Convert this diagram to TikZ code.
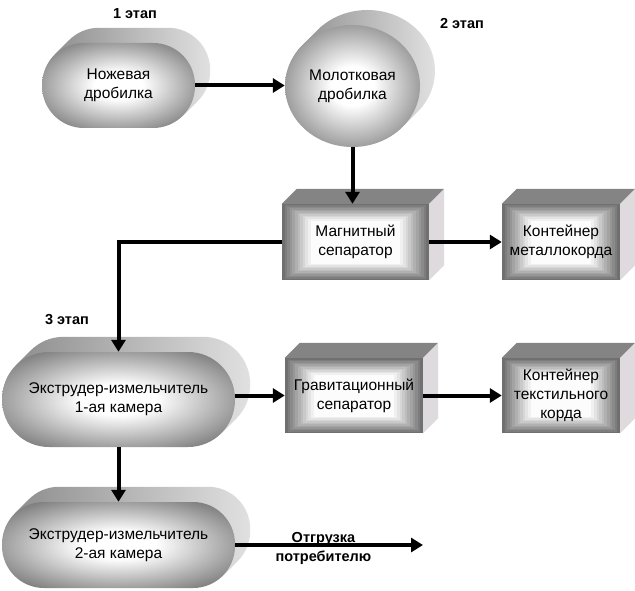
\documentclass[tikz,border=0pt]{standalone}
\usepackage{fontspec}
\setmainfont{Liberation Sans}
\usetikzlibrary{shapes.geometric,arrows.meta,backgrounds}

\definecolor{sidegray}{RGB}{222,218,222}
\definecolor{topgray}{RGB}{132,132,132}
\pgfdeclareradialshading{crushfront}{\pgfpoint{0bp}{0bp}}{color(0bp)=(white); color(8bp)=(white); color(33bp)=(black!56); color(50bp)=(black!60)}

\begin{document}
\begin{tikzpicture}[x=1pt,y=-1pt,
  txt/.style={font=\fontsize{15.5}{19}\selectfont, align=center},
  stage/.style={font=\bfseries\fontsize{14.5}{19}\selectfont, align=center},
  roundface/.style={rectangle, inner sep=0pt, shading=crushfront, txt},
  ovalface/.style={ellipse, inner sep=0pt, shading=crushfront, txt},
  boxface/.style={rectangle, inner sep=0pt, fill=black!56, txt,
    path picture={\foreach \k [evaluate=\k as \tone using {int(56-5*\k)}] in {1,...,11}
      \fill[black!\tone] ([shift={(\k*2.6pt,\k*1.5pt)}]path picture bounding box.south west)
        rectangle ([shift={(-\k*2.6pt,-\k*1.5pt)}]path picture bounding box.north east);}},
  backface/.style={left color=black!46, right color=black!12},
  flow/.style={line width=4pt, -{Triangle[length=12pt,width=14pt]}},
]
\useasboundingbox (0,0) rectangle (635,591);

% crushers and extruders
\node[roundface, rounded corners=42pt, minimum width=153pt, minimum height=85pt] (knife) at (118.5,85.5) {Ножевая\\дробилка};
\node[ovalface, minimum width=135pt, minimum height=122pt] (hammer) at (352.5,86) {Молотковая\\дробилка};
\node[roundface, rounded corners=47pt, minimum width=233pt, minimum height=95pt] (extr1) at (118.5,399.5) {Экструдер-измельчитель\\1-ая камера};
\node[roundface, rounded corners=42pt, minimum width=233pt, minimum height=86pt] (extr2) at (118.5,545) {Экструдер-измельчитель\\2-ая камера};

% separators and containers
\node[boxface, minimum width=147pt, minimum height=76pt] (magsep) at (355.5,242) {Магнитный\\сепаратор};
\node[boxface, minimum width=118pt, minimum height=76pt] (metalbin) at (561,242) {Контейнер\\металлокорда};
\node[boxface, minimum width=138pt, minimum height=75pt] (gravsep) at (354,395.5) {Гравитационный\\сепаратор};
\node[boxface, minimum width=118pt, minimum height=75pt] (textbin) at (561,395.5) {Контейнер\\текстильного\\корда};

% depth of the shapes
\begin{scope}[on background layer]
  \path[backface, rounded corners=42pt] foreach \s in {1,...,15} {([shift={(\s,-\s)}]knife.south west) rectangle ([shift={(\s,-\s)}]knife.north east)};
  \path[backface, rounded corners=47pt] foreach \s in {1,...,15} {([shift={(\s,-\s)}]extr1.south west) rectangle ([shift={(\s,-\s)}]extr1.north east)};
  \path[backface, rounded corners=42pt] foreach \s in {1,...,15} {([shift={(\s,-\s)}]extr2.south west) rectangle ([shift={(\s,-\s)}]extr2.north east)};
  \path[backface] foreach \s in {1,...,15} {([shift={(\s,-\s)}]hammer.center) ellipse [x radius=67.5pt, y radius=61pt]};
  \foreach \b in {magsep,metalbin,gravsep,textbin} {
    \fill[topgray] (\b.north west) -- ++(15,-15) -- ([shift={(15,-15)}]\b.north east) -- (\b.north east) -- cycle;
    \fill[sidegray] (\b.north east) -- ++(15,-15) -- ([shift={(15,-15)}]\b.south east) -- (\b.south east) -- cycle;
  }
\end{scope}

% stage labels
\node[stage] (stage1) at (135,14) {1 этап};
\node[stage] (stage2) at (462,24) {2 этап};
\node[stage] (stage3) at (67,320) {3 этап};

% flows
\coordinate (ship) at (423,545);
\draw[flow] (knife.east) -- (hammer.west |- knife.east);
\draw[flow] (hammer.south) -- (hammer.south |- magsep.north);
\draw[flow] (magsep.east) -- (metalbin.west);
\draw[flow] (magsep.west) -| (extr1.north);
\draw[flow] (extr1.east |- gravsep.west) -- (gravsep.west);
\draw[flow] (gravsep.east) -- (textbin.west);
\draw[flow] (extr1.south) -- (extr2.north);
\draw[flow] (extr2.east) -- (ship) node[stage, pos=0.47, yshift=-3pt] (shiplabel) {Отгрузка\\потребителю};
\end{tikzpicture}
\end{document}
